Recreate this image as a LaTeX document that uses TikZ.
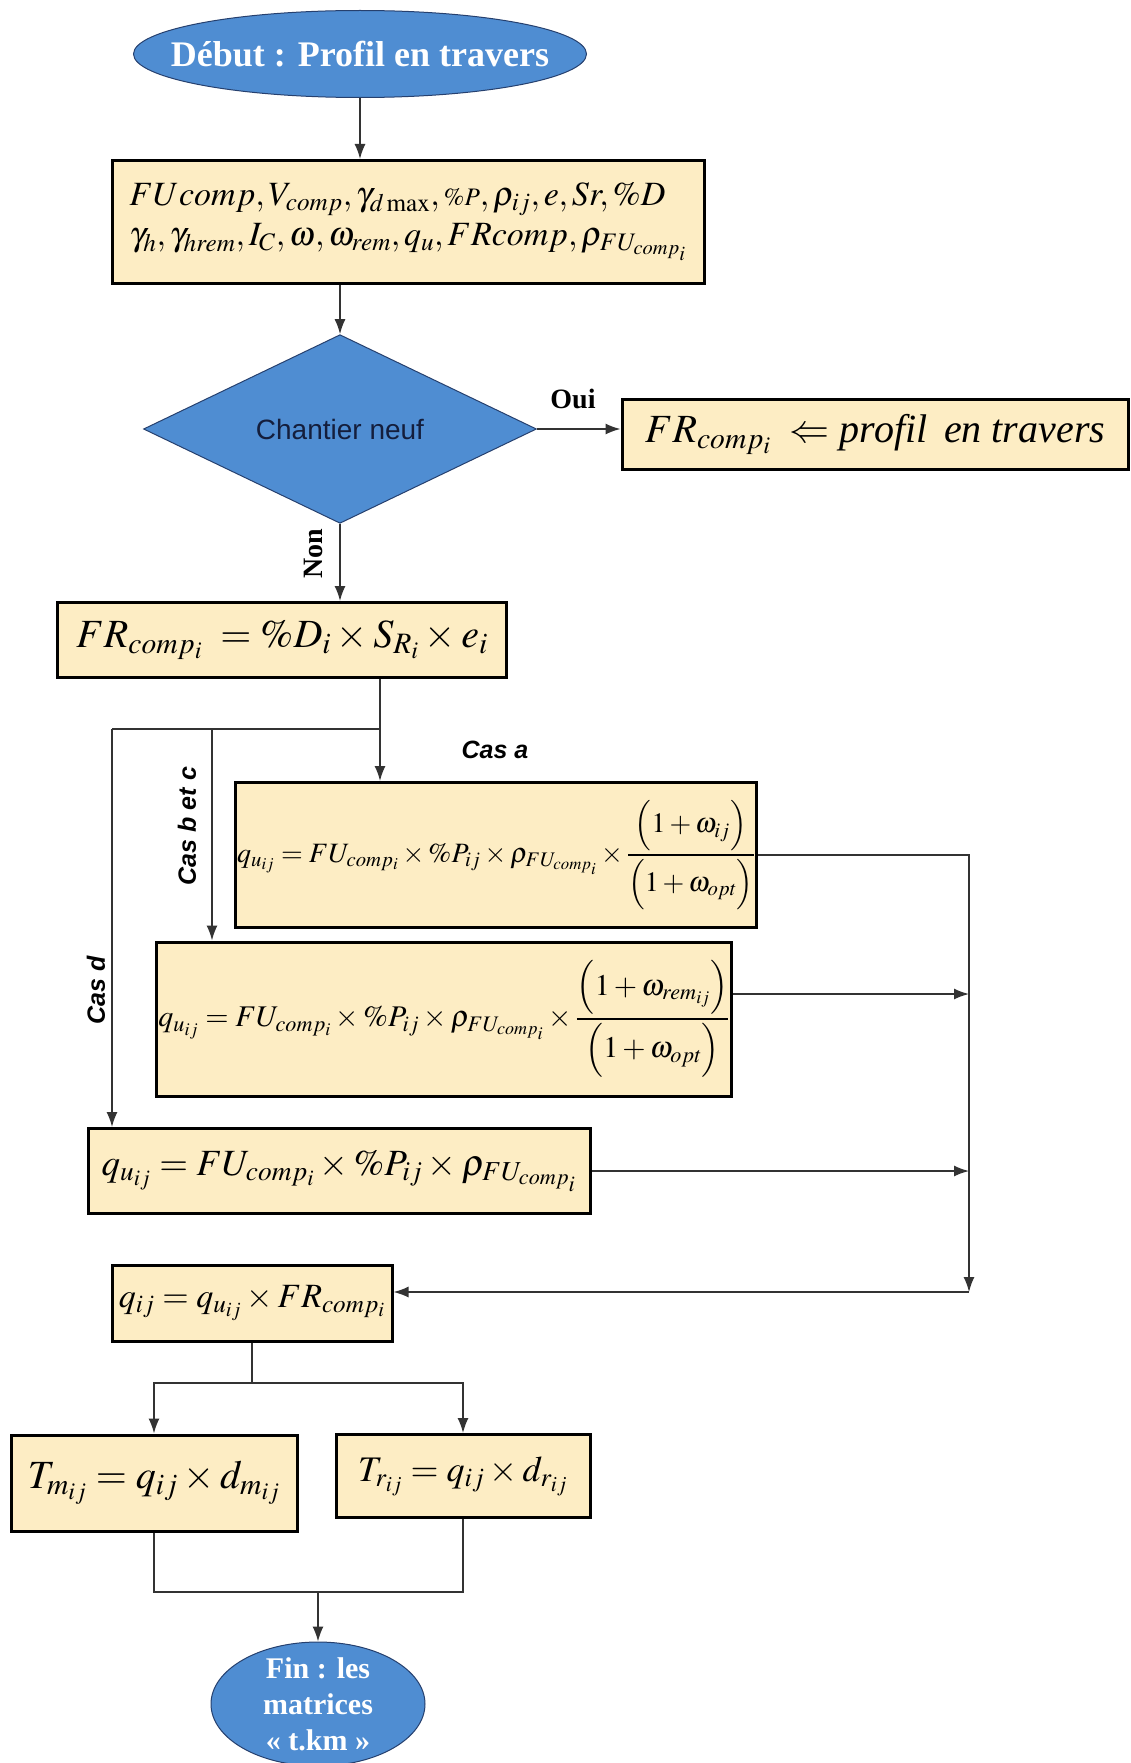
\RequirePackage{fix-cm}
\documentclass[tikz,border=0pt]{standalone}
\usepackage{amsmath}
\usepackage{mathptmx}
\usepackage[no-math]{fontspec}
\setmainfont{Liberation Serif}
\setsansfont{Liberation Sans}
\usepackage{xcolor}
\usetikzlibrary{shapes.geometric, arrows.meta, positioning, calc}

\definecolor{boxfill}{RGB}{253,237,196}
\definecolor{flowblue}{RGB}{79,141,210}
\definecolor{flowedge}{RGB}{38,64,110}
\definecolor{navytext}{RGB}{20,30,60}

\begin{document}
\begin{tikzpicture}[x=1pt, y=-1pt,
  eqbox/.style={draw=black, line width=3pt, fill=boxfill, inner sep=2pt, font=\fontsize{34}{40}\selectfont},
  term/.style={ellipse, draw=flowedge, line width=1pt, fill=flowblue, text=white, align=center, inner xsep=-40pt, inner ysep=-12pt},
  test/.style={diamond, draw=flowedge, line width=1pt, fill=flowblue, text=navytext, inner sep=0pt, font=\sffamily\fontsize{28}{32}\selectfont},
  link/.style={line width=1.5pt, draw=black!80},
  arr/.style={link, -{Latex[length=15pt,width=11pt]}},
  caselbl/.style={font=\sffamily\bfseries\itshape\fontsize{25}{28}\selectfont},
  yesno/.style={font=\bfseries\fontsize{28}{30}\selectfont}
]
  \useasboundingbox (0,0) rectangle (1130,1763);

  % start and input data
  \node[term, minimum width=453pt, minimum height=87pt, font=\bfseries\fontsize{36}{40}\selectfont] (start) at (360,54) {Début : Profil en travers};
  \node[eqbox, minimum width=592pt, minimum height=123pt, align=left, inner sep=0pt] (inp) at (408,222)
    {$FUcomp,V_{comp},\gamma_{d\max},{\scriptstyle\%P},\rho_{ij},e,Sr,\%D$\\
     $\gamma_h,\gamma_{hrem},I_C,\omega,\omega_{rem},q_u,FRcomp,\rho_{FU_{comp_i}}$};

  % test
  \node[test, minimum width=393pt, minimum height=173pt] (dec) at (340,429) {Chantier neuf};
  \node[eqbox, minimum width=506pt, minimum height=70pt, font=\fontsize{40}{44}\selectfont] (oui) at (875,434)
    {$FR_{comp_i}\ \Leftarrow$ \textit{profil\, en travers}};
  \node[eqbox, minimum width=449pt, minimum height=75pt, font=\fontsize{40}{44}\selectfont] (frc) at (282,640)
    {$FR_{comp_i}\;=\%D_i\times S_{R_i}\times e_i$};

  \node[yesno] (ouilbl) at (573,399) {Oui};
  \node[yesno, rotate=90] (nonlbl) at (313,554) {Non};

  % cases
  \node[eqbox, minimum width=507pt, minimum height=145pt, font=\fontsize{28}{32}\selectfont] (boxa) at (496,855)
    {$q_{u_{ij}}=FU_{comp_i}\times\%P_{ij}\times\rho_{FU_{comp_i}}\times\dfrac{\Big(1+\omega_{ij}\Big)}{\Big(1+\omega_{opt}\Big)}$};
  \node[eqbox, minimum width=560pt, minimum height=154pt, font=\fontsize{30}{34}\selectfont] (boxb) at (444,1019)
    {$q_{u_{ij}}=FU_{comp_i}\times\%P_{ij}\times\rho_{FU_{comp_i}}\times\dfrac{\Big(1+\omega_{rem_{ij}}\Big)}{\Big(1+\omega_{opt}\Big)}$};
  \node[eqbox, minimum width=502pt, minimum height=85pt, font=\fontsize{37}{42}\selectfont] (boxd) at (339,1171)
    {$q_{u_{ij}}=FU_{comp_i}\times\%P_{ij}\times\rho_{FU_{comp_i}}$};

  \node[caselbl] (casa) at (495,750) {Cas a};
  \node[caselbl, rotate=90] (casbc) at (187,826) {Cas b et c};
  \node[caselbl, rotate=90] (casd) at (96,990) {Cas d};

  % results
  \node[eqbox, minimum width=280pt, minimum height=76pt] (qbox) at (252,1303)
    {$q_{ij}=q_{u_{ij}}\times FR_{comp_i}$};
  \node[eqbox, minimum width=286pt, minimum height=96pt, font=\fontsize{40}{44}\selectfont] (tm) at (154,1483)
    {$T_{m_{ij}}=q_{ij}\times d_{m_{ij}}$};
  \node[eqbox, minimum width=254pt, minimum height=83pt, font=\fontsize{36}{40}\selectfont] (tr) at (463,1476)
    {$T_{r_{ij}}=q_{ij}\times d_{r_{ij}}$};
  \node[term, minimum width=214pt, minimum height=124pt, font=\bfseries\fontsize{30}{36}\selectfont] (fin) at (318,1704)
    {Fin : les\\matrices\\« t.km »};

  % junction points
  \coordinate (split) at (380,729);
  \coordinate (cb) at (212,729);
  \coordinate (cd) at (112,729);
  \coordinate (merge) at (969,1292);
  \coordinate (bout) at ([yshift=25pt]boxb.east);
  \coordinate (fork) at (252,1383);
  \coordinate (join) at (318,1592);

  % connectors
  \draw[arr] (start.south) -- (start.south |- inp.north);
  \draw[arr] (dec.north |- inp.south) -- (dec.north);
  \draw[arr] (dec.east) -- (dec.east -| oui.west);
  \draw[arr] (dec.south) -- (dec.south |- frc.north);

  \draw[link] (frc.south -| split) -- (split) -- (cd);
  \draw[arr] (split) -- (split |- boxa.north);
  \draw[arr] (cb) -- (cb |- boxb.north);
  \draw[arr] (cd) -- (cd |- boxd.north);

  \draw[arr] (boxa.east) -| (merge);
  \draw[arr] (bout) -- (bout -| merge);
  \draw[arr] (boxd.east) -- (boxd.east -| merge);
  \draw[arr] (merge) -- (merge -| qbox.east);

  \draw[link] (qbox.south) -- (fork);
  \draw[arr] (fork) -| (tm.north);
  \draw[arr] (fork) -| (tr.north);
  \draw[link] (tm.south) |- (join);
  \draw[link] (tr.south) |- (join);
  \draw[arr] (join) -- (fin.north);
\end{tikzpicture}
\end{document}
